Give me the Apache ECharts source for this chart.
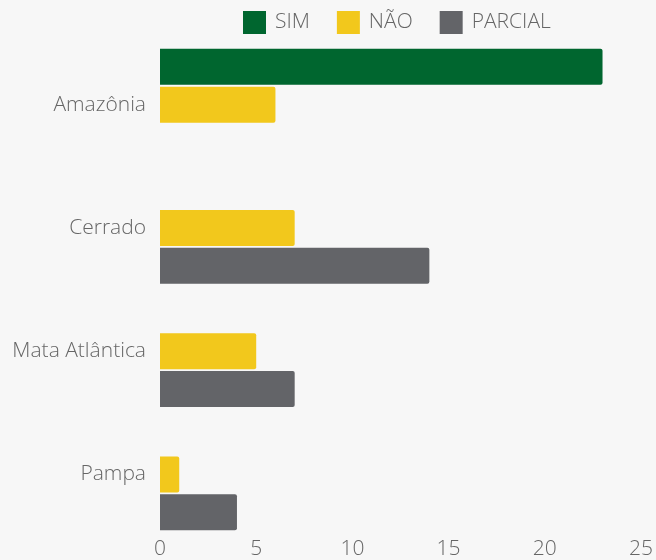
<!DOCTYPE html>
<html>
<head>
<meta charset="utf-8">
<script src="https://cdn.jsdelivr.net/npm/echarts@6/dist/echarts.min.js"></script>
<style>
  html, body { margin: 0; padding: 0; background: #f7f7f7; }
  #chart { width: 656px; height: 560px; }
</style>
</head>
<body>
<div id="chart"></div>
<script>
  var biomes = ['Amazônia', 'Cerrado', 'Mata Atlântica', 'Pampa']
  var simValues = [23, 0, 0, 0]
  var naoValues = [6, 7, 5, 1]
  var parcialValues = [0, 14, 7, 4]
  var xTicks = [0, 5, 10, 15, 20, 25]

  var chart = echarts.init(document.getElementById('chart'))
  var font = 'Open Sans'
  var textColor = '#666'

  function barSeries(name, color, data) {
    return {
      name: name,
      type: 'bar',
      barWidth: 36,
      barGap: '5%',
      itemStyle: { color: color, borderRadius: [0, 2, 2, 0] },
      data: data
    }
  }

  var option = {
    backgroundColor: '#f7f7f7',
    legend: {
      top: 11,
      left: 243,
      padding: 0,
      itemWidth: 23,
      itemHeight: 23,
      itemGap: 27,
      icon: 'rect',
      selectedMode: false,
      textStyle: { color: textColor, fontSize: 21, fontWeight: 300, fontFamily: font, padding: [0, 0, 0, 4] },
      data: ['SIM', 'NÃO', 'PARCIAL']
    },
    grid: { left: 160, right: 15, top: 43, bottom: 23 },
    xAxis: {
      type: 'value',
      min: xTicks[0],
      max: xTicks[xTicks.length - 1],
      interval: 5,
      axisLine: { show: false },
      axisTick: { show: false },
      splitLine: { show: false },
      axisLabel: { color: textColor, fontSize: 21, fontWeight: 300, fontFamily: font, margin: 3 }
    },
    yAxis: {
      type: 'category',
      inverse: true,
      data: biomes,
      axisLine: { show: false },
      axisTick: { show: false },
      axisLabel: { color: textColor, fontSize: 21, fontWeight: 300, fontFamily: font, margin: 14 }
    },
    series: [
      barSeries('SIM', '#00662f', simValues),
      barSeries('NÃO', '#f2c81c', naoValues),
      barSeries('PARCIAL', '#636468', parcialValues)
    ]
  }

  chart.setOption(option)
</script>
</body>
</html>
